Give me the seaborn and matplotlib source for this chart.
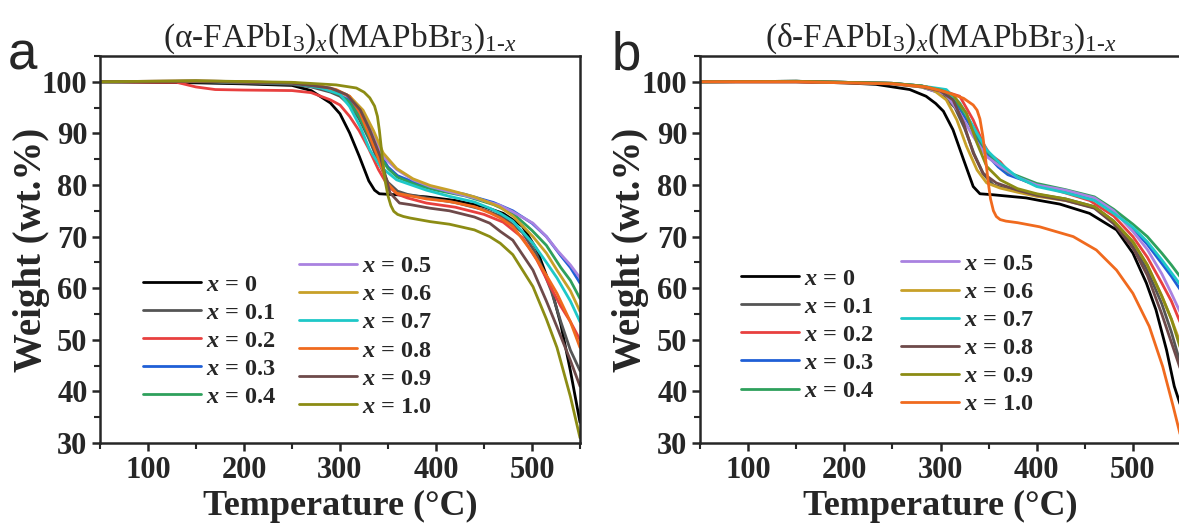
import matplotlib
matplotlib.use("Agg")
import matplotlib.pyplot as plt
import seaborn as sns
import pandas as pd
from matplotlib.ticker import MultipleLocator

sns.set_style("ticks")
plt.rcParams['font.family'] = ['Liberation Serif', 'DejaVu Serif']
plt.rcParams['mathtext.fontset'] = 'custom'
plt.rcParams['mathtext.rm'] = 'Liberation Serif'
plt.rcParams['mathtext.it'] = 'Liberation Serif:italic'
plt.rcParams['mathtext.bf'] = 'Liberation Serif:bold'
plt.rcParams['mathtext.bfit'] = 'Liberation Serif:italic:bold'

# ---------------- data ----------------
labels = ["0", "0.1", "0.2", "0.3", "0.4", "0.5", "0.6", "0.7", "0.8", "0.9", "1.0"]

colors_a = ["#000000", "#555555", "#e8403f", "#1f5fd6", "#2ea05c", "#a982e0",
            "#c8a028", "#1ec8c8", "#f06a1e", "#6e4a4a", "#8c8c14"]
colors_b = ["#000000", "#555555", "#e8403f", "#1f5fd6", "#2ea05c", "#a982e0",
            "#c8a028", "#1ec8c8", "#6e4a4a", "#8c8c14", "#f06a1e"]

# Panel a: (alpha-FAPbI3)x(MAPbBr3)1-x
a0_T = [50,150,200,250,270,290,300,310,320,330,336,341,350,370,390,420,450,470,490,505,520,530,540,550]
a0_W = [100,99.8,99.6,99.3,98.3,95.9,93.8,90.1,85.6,80.8,79,78.3,78.2,78.0,77.7,77.0,75.8,74.5,72.0,67.5,60,53,44,34]
a1_T = [50,150,250,270,290,300,310,320,330,340,350,360,370,390,420,450,470,490,505,520,530,540,550]
a1_W = [100,100,99.5,99.0,98.0,97.2,95.5,92.8,89,84.5,80.5,78.8,78.2,77.5,76.6,75.2,73.8,70.8,66.5,59.5,53.5,48,44]
a2_T = [50,130,150,170,200,250,270,290,300,310,320,330,340,350,360,370,390,420,450,470,490,505,520,530,540,550]
a2_W = [100,99.9,99.0,98.5,98.4,98.3,97.9,96.5,95.5,93.3,90.5,87,83,79.8,78.2,77.5,76.5,75.7,74.3,72.8,69.8,65.5,60,56.5,53.5,50]
a3_T = [50,150,250,280,300,310,320,330,340,350,360,380,400,430,460,480,500,515,530,540,550]
a3_W = [100,100.1,99.8,99.0,97.7,96.3,93.8,90.3,86.5,83.5,81.8,80.3,79.3,78.2,76.6,75,72.6,70,66.3,64,61]
a4_T = [50,150,250,280,300,310,320,330,340,350,360,380,400,430,460,480,500,515,530,540,550]
a4_W = [100,100.1,99.8,99.0,97.5,96.0,93.2,89.5,86,83.2,81.5,80.0,79.0,77.9,76.2,74.5,71.2,68.3,64,61.5,58]
a5_T = [50,150,250,280,300,310,324,335,345,359,376,394,414,440,466,480,501,515,526,540,550]
a5_W = [100,100.2,99.8,99.0,97.8,97,93.9,89.4,85.5,83,81,79.7,78.7,77.5,76.1,74.8,72.6,70,67.4,64.5,62]
a6_T = [50,150,250,280,300,310,324,335,345,359,376,394,414,440,466,480,501,515,526,540,550]
a6_W = [100,100.2,99.8,99.2,98.0,97.2,94.5,90.5,86.2,83.2,81.2,79.9,79.0,77.7,75.8,74,70,66.8,63.5,59.5,55.5]
a7_T = [50,150,250,280,300,310,321,331,342,359,390,414,440,456,467,480,501,515,526,540,550]
a7_W = [100,100.1,99.7,98.8,97.6,95.2,91.3,86.8,83.6,81,79,77.8,76.7,75.5,74.5,73,68.7,65,62,57.5,53.5]
a8_T = [50,150,250,270,296,310,321,331,342,349,359,390,414,440,456,467,480,501,515,526,540,550]
a8_W = [100,100.1,99.8,99.5,98.5,97.2,93.9,89.4,84.2,80.4,78.4,77.3,76.8,75.8,74.6,73.6,72,66.8,62.5,59,53.5,48.5]
a9_T = [50,150,250,290,307,321,331,342,347,352,362,373,394,414,440,456,467,480,501,515,526,540,550]
a9_W = [100,100.1,99.7,98.8,97.5,94.6,90.7,85.5,82,78.5,76.5,76.2,75.5,75.0,73.8,72.6,71,69.3,63.5,57.5,52.5,46,41]
a10_T = [50,150,250,296,317,325,331,336,339,341,343,345,347,350,353,356,360,366,373,394,414,440,456,467,480,501,515,526,540,550]
a10_W = [100,100.2,99.9,99.4,98.8,98.0,96.9,95.3,93.3,90.6,87.2,83.8,80.8,77.9,76.0,74.9,74.3,73.9,73.6,72.9,72.4,71.3,70,68.7,66.5,60.3,54,48.5,39,31]

# Panel b: (delta-FAPbI3)x(MAPbBr3)1-x
b0_T = [50,150,200,233,268,285,295,303,313,324,334,341,355,389,403,424,455,483,500,514,524,535,543,550]
b0_W = [100,100,99.8,99.5,98.5,97.2,95.8,94.3,90.7,84.9,79.7,78.3,78.1,77.5,77.0,76.3,74.5,71.3,66.8,61,55.8,48,41,37]
b1_T = [50,150,250,280,300,315,325,335,345,355,370,400,430,460,480,500,515,530,540,550]
b1_W = [100,100,99.6,99.0,97.8,95,91,86,82,80,79.2,78.2,77.3,75.8,73,68.5,63.5,57,51.5,45]
b2_T = [50,150,250,280,300,320,334,344,351,362,372,389,424,455,480,500,515,530,540,550]
b2_W = [100,100,99.7,99.2,98.4,97.2,92.6,88.2,86,84.5,82.3,80.7,78.8,77,74,70,66,61,57.5,53]
b3_T = [50,150,250,280,300,315,330,345,360,370,400,430,460,480,500,515,530,540,550]
b3_W = [100,100.1,99.7,99.2,98.3,96.3,91.8,86.5,83.5,82,80,78.9,77.3,74.8,71.5,68.5,64.8,62.3,59.5]
b4_T = [50,150,250,280,300,315,330,345,360,370,400,430,460,480,500,515,530,540,550]
b4_W = [100,100.1,99.7,99.2,98.4,96.6,92.5,87.3,84,82.5,80.3,79.1,77.7,75.3,72.4,70,66.8,64.5,62]
b5_T = [50,150,250,280,306,320,334,348,362,380,400,430,460,480,500,515,530,540,550]
b5_W = [100,100.1,99.7,99.0,97.5,93.9,89.4,85.5,83.6,81.5,80,79,77.5,75,71,67.5,62.8,59,55]
b6_T = [50,150,250,280,292,306,317,327,338,348,362,380,400,430,460,480,500,515,530,540,550]
b6_W = [100,100.1,99.7,99.0,98.5,96.5,92.6,87.5,82.9,80.4,79.4,78.6,77.8,77,75.6,73,69,64.5,58.5,54,49]
b7_T = [50,150,250,280,306,320,334,348,362,380,400,430,460,480,500,515,530,540,550]
b7_W = [100,100.1,99.7,99.2,98.5,95.9,91.3,86.8,84.2,81.5,79.7,78.5,77,74.5,71.8,69,65.5,63,60.5]
b8_T = [50,150,250,280,300,313,324,334,344,358,380,400,430,460,480,500,515,530,540,550]
b8_W = [100,100.1,99.7,99.1,98.2,96.5,92,86.2,82.3,80.4,79,78,77,75.5,72.5,67.8,62.5,55,49.5,44]
b9_T = [50,150,250,280,300,313,327,338,348,362,380,400,430,460,480,500,515,530,540,550]
b9_W = [100,100.1,99.7,99.2,98.4,97.5,93.9,88.1,83.6,81,79.3,78.3,77.3,75.8,73,69,64.5,58.5,54,48]
b10_T = [50,150,250,285,306,324,334,338,341,344,346,348,350,352,355,358,362,368,380,403,438,462,483,500,517,531,542,550]
b10_W = [100,100,99.6,99.0,98.0,96.8,95.5,94.5,92.8,89.5,86.5,83.2,80.0,77.3,75.0,73.9,73.3,73.0,72.7,71.9,70,67.4,63.5,59,52.6,44.8,37,31]

series_a = [(a0_T, a0_W), (a1_T, a1_W), (a2_T, a2_W), (a3_T, a3_W), (a4_T, a4_W), (a5_T, a5_W),
            (a6_T, a6_W), (a7_T, a7_W), (a8_T, a8_W), (a9_T, a9_W), (a10_T, a10_W)]
series_b = [(b0_T, b0_W), (b1_T, b1_W), (b2_T, b2_W), (b3_T, b3_W), (b4_T, b4_W), (b5_T, b5_W),
            (b6_T, b6_W), (b7_T, b7_W), (b8_T, b8_W), (b9_T, b9_W), (b10_T, b10_W)]

xticks = [100, 200, 300, 400, 500]
yticks = [30, 40, 50, 60, 70, 80, 90, 100]

def long_df(series):
    rows = []
    for lab, (T, W) in zip(labels, series):
        for t, w in zip(T, W):
            rows.append({"T": t, "W": w, "x": lab})
    return pd.DataFrame(rows)

W_PX, H_PX = 1179, 525
fig = plt.figure(figsize=(W_PX / 100, H_PX / 100), dpi=100)

def px_axes(left, right, top, bottom):
    return fig.add_axes([left / W_PX, 1 - bottom / H_PX, (right - left) / W_PX, (bottom - top) / H_PX])

ax_a = px_axes(100, 580, 56, 443)
ax_b = px_axes(700, 1181, 56, 443)

panels = [
    (ax_a, series_a, colors_a, "(α-FAPbI$_3$)$_x$(MAPbBr$_3$)$_{1\\text{-}x}$", "a", -0.192, -0.105,
     (0.0896, 0.438), (0.4146, 0.485)),
    (ax_b, series_b, colors_b, "(δ-FAPbI$_3$)$_x$(MAPbBr$_3$)$_{1\\text{-}x}$", "b", -0.183, -0.105,
     (0.0852, 0.453), (0.418, 0.491)),
]

for ax, series, cols, title, letter, lx, ylx, anc1, anc2 in panels:
    df = long_df(series)
    sns.lineplot(data=df, x="T", y="W", hue="x", hue_order=labels, palette=cols,
                 sort=False, estimator=None, legend=False, lw=2.0, ax=ax)
    ax.set_xlim(50, 550)
    ax.set_ylim(30, 105)
    ax.set_xticks(xticks)
    ax.set_yticks(yticks)
    ax.xaxis.set_minor_locator(MultipleLocator(50))
    ax.yaxis.set_minor_locator(MultipleLocator(5))
    ax.tick_params(which="major", direction="out", length=6, width=1.8, labelsize=22, pad=3)
    ax.tick_params(which="minor", direction="out", length=4, width=1.5)
    for lab in ax.get_xticklabels() + ax.get_yticklabels():
        lab.set_fontweight("bold")
    for s in ax.spines.values():
        s.set_linewidth(1.8)
        s.set_visible(True)
    ax.set_xlabel("Temperature (°C)", fontsize=26, fontweight="bold", labelpad=4)
    ax.set_ylabel("Weight (wt.%)", fontsize=28, fontweight="bold")
    ax.yaxis.set_label_coords(ylx, 0.5)
    ax.set_title(title, fontsize=24, pad=6)
    ax.text(lx, 0.964, letter, transform=ax.transAxes, fontsize=38,
            family=["Liberation Sans", "DejaVu Sans"], ha="left", va="baseline")

    lines = ax.get_lines()
    lbls = [r"$\mathbfit{x}$ = " + l for l in labels]
    prop = {"family": "Liberation Serif", "weight": "bold", "size": 17.5}
    leg1 = ax.legend(lines[:5], lbls[:5], loc="upper left", bbox_to_anchor=anc1,
                     frameon=False, prop=prop, handlelength=2.4, handletextpad=0.2,
                     labelspacing=0.25, borderpad=0, borderaxespad=0)
    ax.add_artist(leg1)
    ax.legend(lines[5:], lbls[5:], loc="upper left", bbox_to_anchor=anc2,
              frameon=False, prop=prop, handlelength=2.4, handletextpad=0.2,
              labelspacing=0.25, borderpad=0, borderaxespad=0)

fig.savefig("out.png", dpi=100)
